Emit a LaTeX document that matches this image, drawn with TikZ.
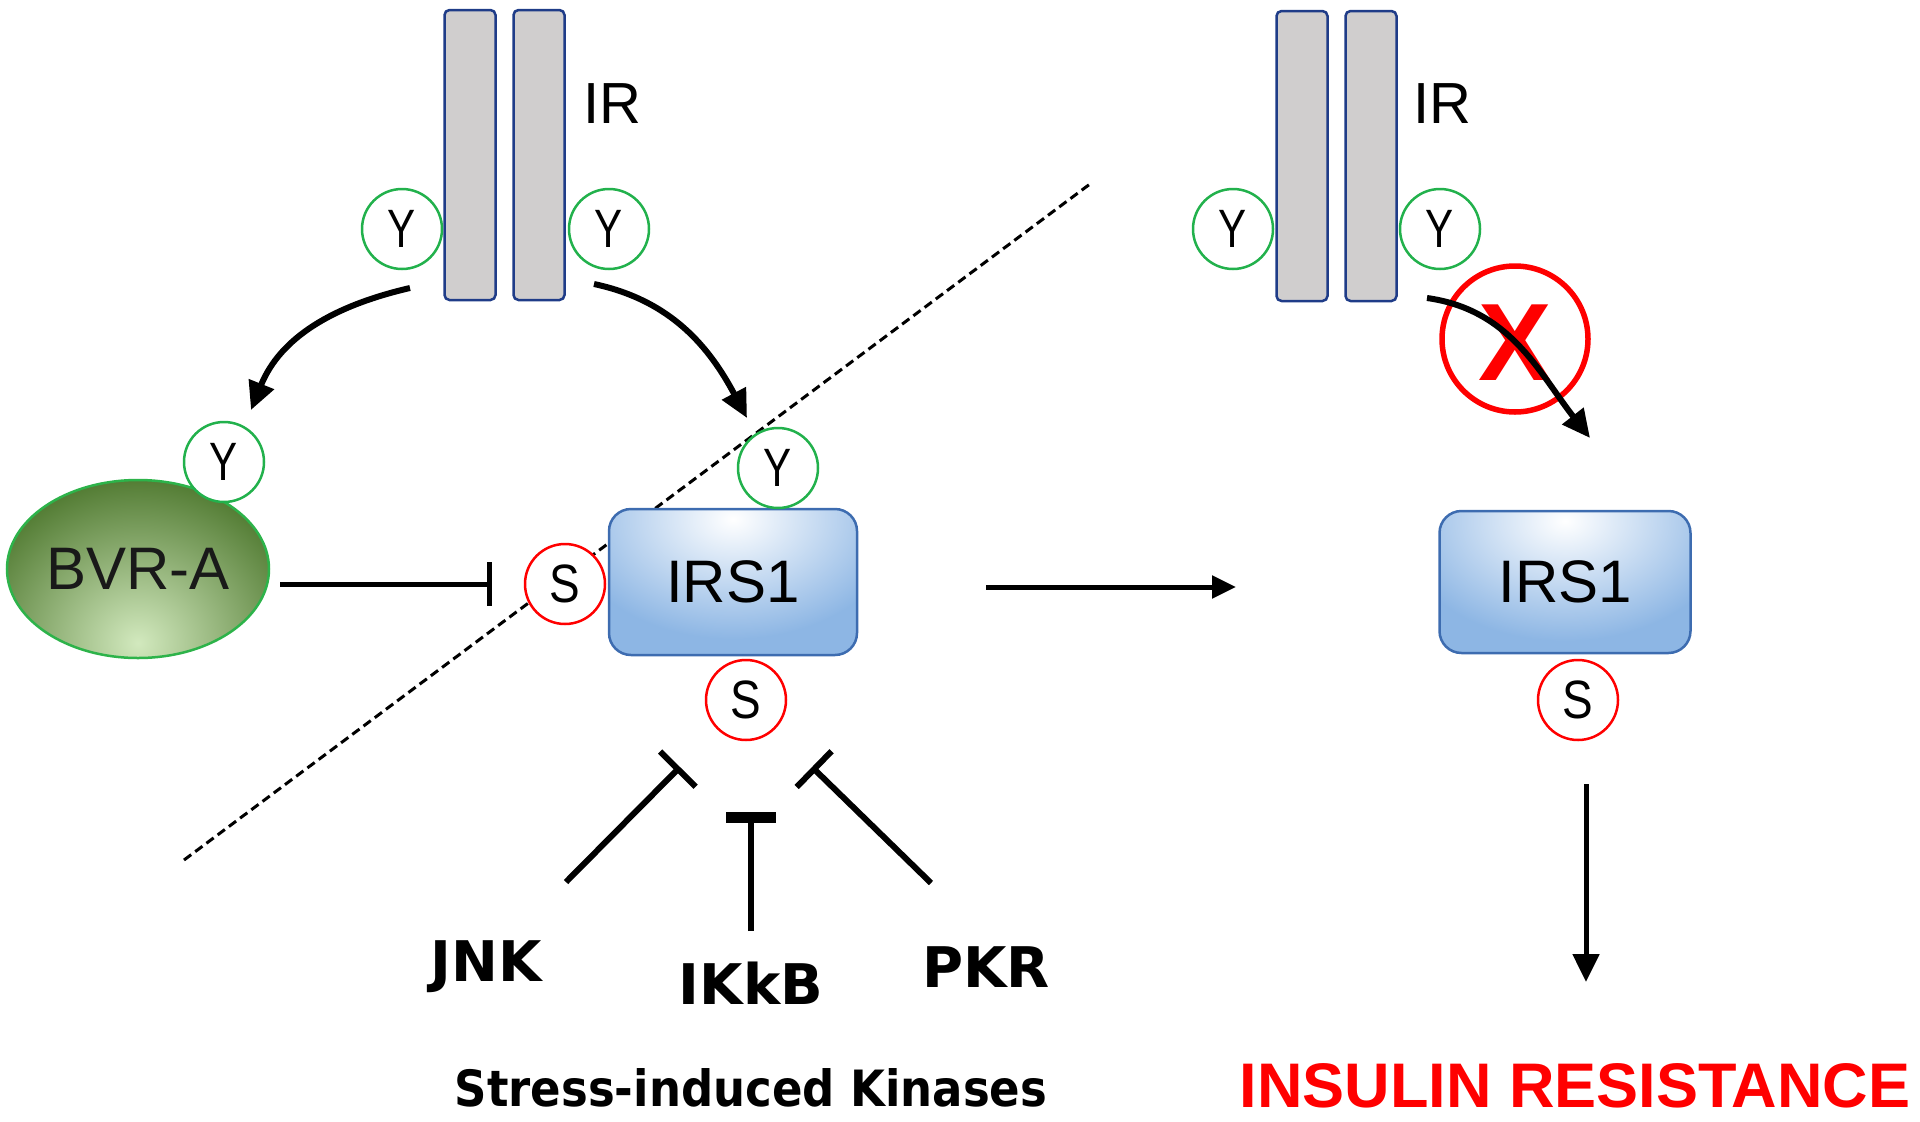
\documentclass[tikz,border=0pt]{standalone}
\usepackage{graphicx}
\usepackage{fontspec}
\setmainfont{Liberation Sans}
\newfontfamily\dvb{DejaVu Sans}
\usetikzlibrary{arrows.meta,calc,shapes.geometric}
\definecolor{irgray}{HTML}{D0CECE}
\definecolor{irblue}{HTML}{1F3C88}
\definecolor{ygreen}{HTML}{22B14C}
\definecolor{sred}{HTML}{FF0000}
\definecolor{bvrdark}{HTML}{3F6B1E}
\definecolor{bvrlight}{HTML}{D2E9BE}
\definecolor{bvredge}{HTML}{2DB34A}
\definecolor{irsmid}{HTML}{8DB6E4}
\definecolor{irsedge}{HTML}{3D6CB0}
\newcommand\Ych{\scalebox{0.78}[1]{Y}}
\newcommand\Sch{\scalebox{0.85}[1]{S}}
\begin{document}
\begin{tikzpicture}[x=1pt,y=-1pt,
  irbar/.style={draw=irblue, line width=2.5pt, fill=irgray, rounded corners=5pt, minimum width=51pt, minimum height=290pt, inner sep=0pt},
  site/.style={circle, fill=white, line width=2.5pt, minimum size=80pt, inner sep=0pt, font=\fontsize{54}{54}\selectfont},
  ysite/.style={site, draw=ygreen},
  ssite/.style={site, draw=sred},
  lbl/.style={font=\fontsize{58}{58}\selectfont, inner sep=0pt},
  kin/.style={font=\dvb\bfseries\fontsize{56}{56}\selectfont, inner sep=0pt},
  irsbox/.style={draw=irsedge, line width=2.5pt, rounded corners=22pt, inner sep=0pt,
    font=\fontsize{60}{60}\selectfont,
    path picture={
      \fill[irsmid] (path picture bounding box.south west) rectangle (path picture bounding box.north east);
      \shade[inner color=white, outer color=irsmid] ([yshift=-10pt]path picture bounding box.north) ellipse [x radius=170, y radius=120];
    }},
  act/.style={line width=6pt, -{Triangle[length=28pt,width=26pt]}},
  inh/.style={line width=6pt, -{Bar[width=50pt,line width=6pt]}},
  dline/.style={line width=3pt, dash pattern=on 9pt off 5pt},
]
\useasboundingbox (0,0) rectangle (1920,1122);

% dashed separation line
\coordinate (dl1) at (184,860);
\coordinate (dl2) at (1090,184);
\draw[dline] (dl1) -- (dl2);

% ----- left receptor -----
\node[irbar] (irL1) at (470,155) {};
\node[irbar] (irL2) at (539,155) {};
\node[lbl] (irLlab) at (612,104) {IR};
\node[ysite] (yL1) at (402,229) {\Ych};
\node[ysite] (yL2) at (609,229) {\Ych};

% BVR-A
\node[ellipse, draw=bvredge, line width=2.5pt, minimum width=262pt, minimum height=178pt, inner sep=0pt,
  font=\fontsize{60}{60}\selectfont, text=black!90,
  path picture={
    \fill[bvrdark] (path picture bounding box.south west) rectangle (path picture bounding box.north east);
    \shade[inner color=bvrlight, outer color=bvrdark] ([yshift=15pt]path picture bounding box.south) ellipse [x radius=200, y radius=190];
  }] (bvr) at (138,569) {BVR-A};
\node[ysite] (ybvr) at (224,462) {\Ych};

% left IRS1
\node[ssite] (sL) at (565,584) {\Sch};
\node[irsbox, minimum width=248pt, minimum height=146pt] (irs1L) at (733,582) {IRS1};
\node[ysite, fill=none] (yirs) at (778,468) {\Ych};
\node[ssite] (sbot) at (746,700) {\Sch};

% activating arrows from IR
\coordinate (a1s) at (410,288);
\coordinate (a1e) at (251,410);
\coordinate (a2s) at (594,284);
\coordinate (a2e) at (747,418);
\draw[act] (a1s) to[out=193, in=68] (a1e);
\draw[act] (a2s) to[out=-12, in=118] (a2e);

% BVR-A inhibits S
\coordinate (bvrA) at ([xshift=10pt]bvr.east |- sL.center);
\coordinate (bvrB) at ([xshift=-73pt]sL.center);
\draw[line width=5pt, -{Bar[width=44pt,line width=5pt]}] (bvrA) -- (bvrB);

% kinases
\node[kin] (jnk) at (486,967) {JNK};
\node[kin] (ikkb) at (751,983) {IKkB};
\node[kin] (pkr) at (986,967) {PKR};
\node[font=\dvb\bfseries\fontsize{50}{50}\selectfont, inner sep=0pt] (stress) at (751,1088) {\scalebox{0.9}[1]{Stress-induced Kinases}};
\coordinate (jnkA) at (566,882);
\coordinate (jnkB) at (680,767);
\coordinate (ikkA) at (751,931);
\coordinate (ikkB) at (751,812);
\coordinate (pkrA) at (931,883);
\coordinate (pkrB) at (812,767);
\draw[inh] (jnkA) -- (jnkB);
\draw[line width=6pt, -{Bar[width=50pt,line width=11pt]}] (ikkA) -- (ikkB);
\draw[inh] (pkrA) -- (pkrB);

% middle arrow
\coordinate (mA) at (986,587);
\coordinate (mB) at (1236,587);
\draw[line width=5pt, -{Triangle[length=24pt,width=22pt]}] (mA) -- (mB);

% ----- right receptor -----
\node[irbar] (irR1) at (1302,156) {};
\node[irbar] (irR2) at (1371,156) {};
\node[lbl] (irRlab) at (1442,104) {IR};
\node[ysite] (yR1) at (1233,229) {\Ych};
\node[ysite] (yR2) at (1440,229) {\Ych};

% blocked arrow
\node[circle, draw=sred, line width=5.5pt, minimum size=146pt, inner sep=0pt] (xc) at (1515,339) {};
\node[text=sred, font=\bfseries\fontsize{110}{110}\selectfont, inner sep=0pt] (xm) at (1515,343) {X};
\coordinate (a3s) at (1427,298);
\coordinate (a3e) at (1590,438);
\draw[act] (a3s) to[out=-8, in=128] (a3e);

% right IRS1
\node[irsbox, minimum width=251pt, minimum height=142pt] (irs1R) at (1565,582) {IRS1};
\node[ssite] (sR) at (1578,700) {\Sch};

% down arrow
\coordinate (dA) at (1586,784);
\coordinate (dB) at (1586,982);
\draw[line width=5pt, -{Triangle[length=28pt,width=26pt]}] (dA) -- (dB);

\node[text=sred, font=\bfseries\fontsize{63}{63}\selectfont, inner sep=0pt] (ins) at (1575,1086) {INSULIN RESISTANCE};
\end{tikzpicture}
\end{document}
